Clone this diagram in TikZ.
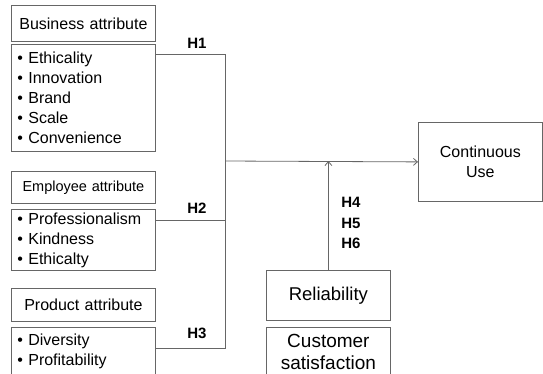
\documentclass[tikz,border=0pt]{standalone}
\usepackage{fontspec}
\setmainfont{Liberation Sans}
\usetikzlibrary{arrows.meta}
\usetikzlibrary{positioning}
\definecolor{linegray}{gray}{0.4}
\tikzset{box/.style = {draw = linegray, line width = 0.8pt, inner xsep = 6pt, inner ysep = 0pt, anchor = north west}}
\tikzset{head/.style = {box, align = center, text width = 132pt, font = \fontsize{16}{20}\selectfont}}
\tikzset{list/.style = {box, align = left, text width = 132pt, font = \fontsize{16}{20}\selectfont}}
\tikzset{hyp/.style = {font = \bfseries\fontsize{15}{20.5}\selectfont, align = left}}
\tikzset{link/.style = {draw = linegray, line width = 0.8pt}}
\tikzset{arr/.style = {link, -{Straight Barb[length = 4pt, width = 7pt]}}}

\begin{document}
\begin{tikzpicture}[x = 1pt, y = -1pt]
      \useasboundingbox (0, 0) rectangle (543, 373);
      \clip (0, 0) rectangle (543, 373);
      % left column
      \node [head, minimum height = 36pt] (bizhead) at (11, 5) {Business attribute};
      \node [list, minimum height = 107pt] (bizlist) at (11, 44) {\textbullet\ Ethicality\\\textbullet\ Innovation\\\textbullet\ Brand\\\textbullet\ Scale\\\textbullet\ Convenience};
      \node [head, minimum height = 32pt, font = \fontsize{14.5}{20}\selectfont] (emphead) at (11, 171) {Employee attribute};
      \node [list, minimum height = 61pt] (emplist) at (11, 209) {\textbullet\ Professionalism\\\textbullet\ Kindness\\\textbullet\ Ethicalty};
      \node [head, minimum height = 33pt] (prodhead) at (11, 288) {Product attribute};
      \node [list, minimum height = 48pt] (prodlist) at (11, 327) {\textbullet\ Diversity\\\textbullet\ Profitability};
      % right side
      \node [box, align = center, text width = 112pt, minimum height = 79pt, font = \fontsize{16}{20}\selectfont] (cont) at (418, 122) {Continuous\\Use};
      \node [box, align = center, text width = 112pt, minimum height = 50pt, font = \fontsize{18.5}{22}\selectfont] (rel) at (266, 270) {Reliability};
      \node [box, align = center, text width = 112pt, minimum height = 50pt, font = \fontsize{19}{22}\selectfont] (cust) at (266, 327) {Customer\\satisfaction};
      % connectors
      \coordinate (top) at (225, 54);
      \coordinate (mid) at (225, 220);
      \coordinate (bot) at (225, 348);
      \coordinate (bus) at (225, 161);
      \draw [link] (bizlist.east |- top) -- (top) -- (bot) -- (prodlist.east |- bot);
      \draw [link] (emplist.east |- mid) -- (mid);
      \draw [arr] (bus) -- (cont.west);
      \draw [arr] (rel.north) -- (rel.north |- bus);
      % labels
      \node [hyp] (h1) at (197, 43) {H1};
      \node [hyp] (h2) at (197, 208) {H2};
      \node [hyp] (h3) at (197, 333) {H3};
      \node [hyp] (h456) at (351, 223) {H4\\H5\\H6};
\end{tikzpicture}
\end{document}
